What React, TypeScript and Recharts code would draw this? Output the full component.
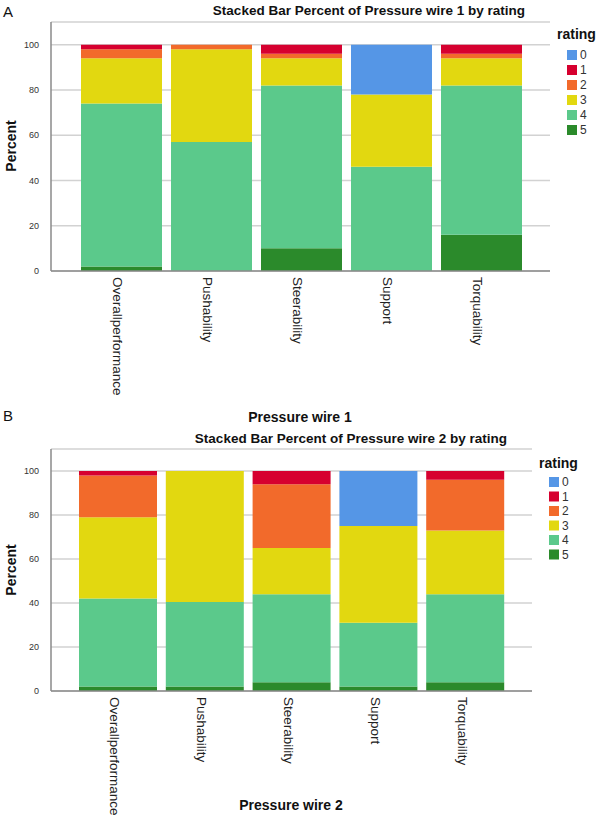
import React from "react";
import { BarChart, Bar, XAxis, YAxis, CartesianGrid } from "recharts";

const categories = ["Overallperformance", "Pushability", "Steerability", "Support", "Torquability"];
const ratings = ["0", "1", "2", "3", "4", "5"];
const ratingColors = ["#5596E6", "#D6002F", "#F26A2B", "#E2D810", "#5BC98B", "#2B8A2B"];
const yTicks = [0, 20, 40, 60, 80, 100];

// Pressure wire 1: percent of each rating per category
const wire1Rating0 = [0, 0, 0, 22, 0];
const wire1Rating1 = [2, 0, 4, 0, 4];
const wire1Rating2 = [4, 2, 2, 0, 2];
const wire1Rating3 = [20, 41, 12, 32, 12];
const wire1Rating4 = [72, 57, 72, 46, 66];
const wire1Rating5 = [2, 0, 10, 0, 16];

// Pressure wire 2: percent of each rating per category
const wire2Rating0 = [0, 0, 0, 25, 0];
const wire2Rating1 = [2, 0, 6, 0, 4];
const wire2Rating2 = [19, 0, 29, 0, 23];
const wire2Rating3 = [37, 59.5, 21, 44, 29];
const wire2Rating4 = [40, 38.5, 40, 29, 40];
const wire2Rating5 = [2, 2, 4, 2, 4];

const buildRows = (series: number[][]) =>
  categories.map((name, i) => {
    const row: Record<string, any> = { name };
    ratings.forEach((r, k) => {
      row["r" + r] = series[k][i];
    });
    return row;
  });

const wire1Data = buildRows([wire1Rating0, wire1Rating1, wire1Rating2, wire1Rating3, wire1Rating4, wire1Rating5]);
const wire2Data = buildRows([wire2Rating0, wire2Rating1, wire2Rating2, wire2Rating3, wire2Rating4, wire2Rating5]);

const FONT = "'Liberation Sans', Arial, Helvetica, sans-serif";
const AXIS_COLOR = "#8a8a8a";
const GRID_COLOR = "#d2d2d2";

const VerticalTick = (props: any) => {
  const { x, y, payload } = props;
  return (
    <text
      transform={`translate(${x - 8},${y + 6}) rotate(90)`}
      x={0}
      y={0}
      textAnchor="start"
      fontSize={13.5}
      fontFamily={FONT}
      fill="#222"
    >
      {payload.value}
    </text>
  );
};

type PanelProps = {
  data: any[];
  height: number;
  right: number;
  barSize: number;
  padL: number;
  padR: number;
  xHeight: number;
};

const Panel = ({ data, height, right, barSize, padL, padR, xHeight }: PanelProps) => (
  <BarChart
    width={600}
    height={height}
    data={data}
    margin={{ top: 22, right, left: 0, bottom: 0 }}
    barSize={barSize}
  >
    <CartesianGrid vertical={false} stroke={GRID_COLOR} strokeWidth={1.5} />
    <XAxis
      dataKey="name"
      type="category"
      interval={0}
      padding={{ left: padL, right: padR }}
      axisLine={{ stroke: AXIS_COLOR, strokeWidth: 1.5 }}
      tickLine={false}
      tickSize={0}
      tickMargin={0}
      height={xHeight}
      tick={<VerticalTick />}
    />
    <YAxis
      type="number"
      domain={[0, 110]}
      ticks={yTicks}
      width={51}
      axisLine={{ stroke: AXIS_COLOR, strokeWidth: 1.5 }}
      tickLine={false}
      tickSize={0}
      tickMargin={12}
      tick={{ fontSize: 9, fill: "#333", fontFamily: FONT }}
    />
    {[5, 4, 3, 2, 1, 0].map((k) => (
      <Bar
        key={k}
        dataKey={"r" + ratings[k]}
        stackId="s"
        fill={ratingColors[k]}
        isAnimationActive={false}
      />
    ))}
  </BarChart>
);

const Legend = ({ x, y, rowStart, step }: { x: number; y: number; rowStart: number; step: number }) => (
  <g fontFamily={FONT}>
    <text x={x} y={y} fontSize={14} fontWeight="bold" fill="#111">
      rating
    </text>
    {ratings.map((r, i) => {
      const c = rowStart + i * step;
      return (
        <g key={r}>
          <rect x={x + 10} y={c - 5} width={10} height={10} fill={ratingColors[i]} />
          <text x={x + 23} y={c + 4.3} fontSize={12} fill="#333">
            {r}
          </text>
        </g>
      );
    })}
  </g>
);

export default function App() {
  return (
    <div
      style={{
        position: "absolute",
        left: 0,
        top: 0,
        width: 600,
        height: 815,
        overflow: "hidden",
        background: "#fff",
      }}
    >
      <div style={{ position: "absolute", left: 0, top: 0 }}>
        <Panel data={wire1Data} height={411} right={50} barSize={81} padL={25} padR={24} xHeight={140} />
      </div>
      <div style={{ position: "absolute", left: 0, top: 427 }}>
        <Panel data={wire2Data} height={394} right={68} barSize={78} padL={24} padR={23} xHeight={130} />
      </div>
      <svg
        width={600}
        height={815}
        style={{ position: "absolute", left: 0, top: 0, pointerEvents: "none" }}
        fontFamily={FONT}
      >
        <text x={3} y={17} fontSize={15} fill="#111">A</text>
        <text x={525} y={15} fontSize={13.5} fontWeight="bold" textAnchor="end" fill="#111">
          Stacked Bar Percent of Pressure wire 1 by rating
        </text>
        <Legend x={557} y={39} rowStart={55} step={15} />
        <text transform="translate(16,146) rotate(-90)" textAnchor="middle" fontSize={14} fontWeight="bold" fill="#111">
          Percent
        </text>
        <text x={300} y={422} fontSize={14} fontWeight="bold" textAnchor="middle" fill="#111">
          Pressure wire 1
        </text>

        <text x={3} y={421} fontSize={15} fill="#111">B</text>
        <text x={507} y={443} fontSize={13.5} fontWeight="bold" textAnchor="end" fill="#111">
          Stacked Bar Percent of Pressure wire 2 by rating
        </text>
        <Legend x={539} y={468} rowStart={482} step={14.5} />
        <text transform="translate(16,570) rotate(-90)" textAnchor="middle" fontSize={14} fontWeight="bold" fill="#111">
          Percent
        </text>
        <text x={291} y={810} fontSize={14} fontWeight="bold" textAnchor="middle" fill="#111">
          Pressure wire 2
        </text>
      </svg>
    </div>
  );
}
